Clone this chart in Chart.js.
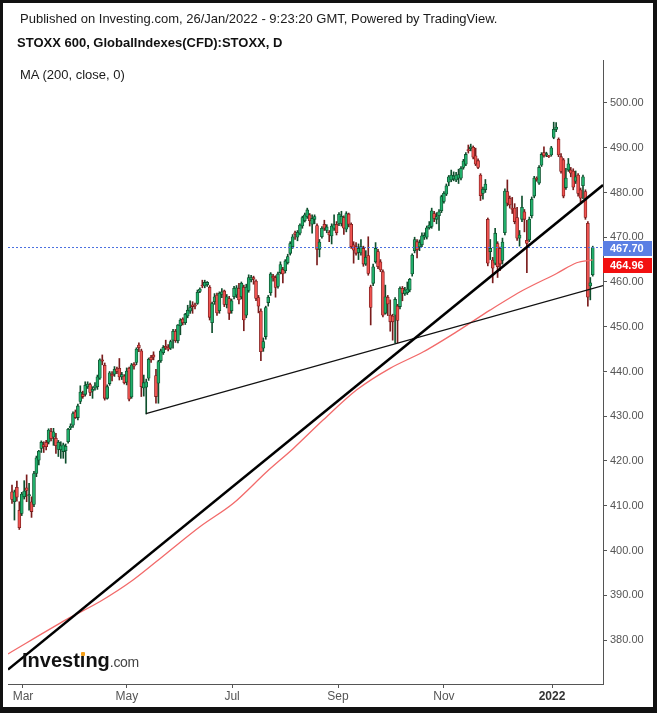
<!DOCTYPE html>
<html>
<head>
<meta charset="utf-8">
<script src="https://cdn.jsdelivr.net/npm/chart.js@4.4.0/dist/chart.umd.min.js"></script>
<style>
html, body { margin: 0; padding: 0; background: #111; }
body { width: 657px; height: 713px; position: relative; overflow: hidden; font-family: "Liberation Sans", Arial, sans-serif; }
#frame { position: absolute; left: 3px; top: 3px; width: 650px; height: 704px; background: #fff; }
#chart { position: absolute; left: 0; top: 0; }
.txt { position: absolute; white-space: nowrap; color: #1a1a1a; font-size: 13px; line-height: 16px; }
.bold { font-weight: bold; color: #111; }
#logo { position: absolute; left: 22px; top: 650px; line-height: 20px; white-space: nowrap; }
#logo .inv { font-weight: bold; font-size: 20px; color: #111; }
#logo .idot { position: relative; }
#logo .idot::after { content: ''; position: absolute; left: 1px; top: 3px; width: 4px; height: 4px; background: #f5a01a; border-radius: 1px; }
#logo .com { font-size: 14px; color: #444; letter-spacing: -0.3px; }
</style>
</head>
<body>
<div id="frame"></div>
<canvas id="chart" width="657" height="713"></canvas>
<div class="txt" style="left:20px;top:11px;">Published on Investing.com, 26/Jan/2022 - 9:23:20 GMT, Powered by TradingView.</div>
<div class="txt bold" style="left:17px;top:35px;">STOXX 600, GlobalIndexes(CFD):STOXX, D</div>
<div class="txt" style="left:20px;top:67px;">MA (200, close, 0)</div>
<div id="logo"><span class="inv">Invest<span class="idot">ı</span>ng</span><span class="com">.com</span></div>
<script>
// --- Daily candles, one entry per trading day (late Feb 2021 .. 26 Jan 2022) ---
const opens = [
  413.1, 410.9, 414.1, 409.0, 408.3, 412.0, 414.0, 412.2, 410.9, 410.3,
  417.2, 420.2, 422.8, 423.6, 424.2, 424.2, 426.6, 425.3, 425.1, 422.6,
  422.5, 422.1, 422.3, 424.3, 427.4, 428.0, 431.0, 429.7, 433.3, 434.9,
  434.9, 436.6, 437.1, 435.6, 436.3, 436.6, 438.5, 442.6, 441.4, 434.0,
  437.3, 439.4, 439.4, 440.6, 440.7, 438.8, 439.0, 437.6, 440.7, 434.3,
  441.6, 442.0, 445.9, 444.6, 436.3, 436.5, 438.5, 443.2, 443.7, 439.1,
  437.4, 442.4, 444.2, 445.6, 445.4, 445.2, 447.0, 449.0, 446.9, 450.2,
  451.7, 450.9, 452.4, 453.5, 454.9, 454.9, 455.2, 457.9, 459.3, 459.1,
  459.4, 458.8, 450.9, 455.6, 457.1, 453.6, 457.2, 458.0, 455.0, 456.3,
  453.6, 456.7, 457.1, 458.6, 456.7, 458.8, 452.6, 458.1, 460.5, 461.0,
  460.2, 456.5, 453.5, 445.2, 447.8, 455.4, 457.6, 461.3, 461.0, 459.0,
  462.1, 462.8, 462.5, 464.3, 466.4, 467.9, 471.0, 470.0, 470.9, 472.5,
  473.7, 474.6, 475.0, 472.9, 474.0, 472.6, 467.3, 470.1, 472.9, 471.5,
  471.1, 470.3, 472.0, 472.9, 473.1, 473.1, 474.4, 471.8, 475.2, 472.9,
  468.3, 467.9, 466.6, 466.5, 467.5, 464.0, 465.9, 458.9, 459.7, 464.5,
  466.8, 464.5, 462.3, 453.0, 456.6, 452.6, 452.4, 452.6, 454.6, 454.5,
  458.6, 457.4, 457.6, 458.2, 461.8, 467.0, 469.0, 467.8, 468.3, 470.0,
  470.0, 472.1, 472.4, 475.3, 474.0, 474.8, 475.9, 478.0, 479.6, 482.3,
  482.8, 483.0, 482.8, 483.2, 483.2, 485.6, 486.3, 489.6, 489.8, 490.1,
  488.2, 487.1, 483.9, 479.8, 480.6, 474.0, 466.8, 464.9, 464.2, 468.6,
  467.5, 464.8, 471.0, 480.2, 478.7, 476.5, 476.5, 474.4, 469.8, 474.0,
  475.7, 469.3, 469.4, 474.8, 479.2, 483.2, 482.1, 486.1, 488.9, 488.4,
  488.1, 488.4, 492.3, 494.1, 491.9, 488.0, 487.3, 481.1, 485.0, 485.0,
  484.8, 482.5, 483.9, 480.6, 481.5, 480.2, 473.1, 459.1, 461.6
];
const highs = [
  414.6, 413.5, 415.5, 410.9, 413.0, 415.6, 416.9, 415.0, 412.0, 417.7,
  421.1, 422.4, 424.5, 424.3, 424.6, 427.2, 427.3, 427.3, 426.2, 424.6,
  424.3, 424.0, 423.8, 427.3, 428.3, 431.0, 431.4, 432.7, 436.8, 435.6,
  437.7, 437.7, 437.4, 436.6, 437.5, 439.2, 442.8, 443.7, 441.9, 437.0,
  440.0, 440.0, 441.1, 441.0, 442.9, 439.8, 439.3, 440.8, 441.0, 441.8,
  442.0, 445.3, 446.4, 445.0, 439.2, 438.3, 443.0, 443.6, 444.4, 440.5,
  442.5, 445.0, 445.8, 447.0, 446.0, 447.0, 449.4, 449.4, 450.5, 451.8,
  452.0, 453.0, 454.8, 455.8, 455.6, 455.3, 458.2, 458.7, 460.4, 460.4,
  460.1, 459.2, 455.5, 457.4, 457.5, 457.8, 458.5, 458.2, 457.2, 456.8,
  456.2, 459.0, 459.2, 459.7, 460.0, 459.3, 459.5, 461.6, 461.5, 461.3,
  460.5, 457.0, 454.0, 447.5, 454.6, 457.0, 462.1, 461.7, 461.4, 462.2,
  464.5, 463.3, 465.0, 466.2, 469.0, 470.6, 471.4, 471.5, 473.0, 474.7,
  475.4, 476.5, 475.3, 475.0, 475.0, 473.0, 469.5, 472.4, 473.8, 472.8,
  471.5, 473.0, 475.0, 473.5, 475.5, 475.8, 474.8, 475.7, 475.4, 473.2,
  469.0, 468.8, 468.5, 469.5, 468.0, 467.0, 470.1, 459.3, 464.0, 468.8,
  467.3, 465.0, 462.7, 459.3, 457.0, 456.0, 452.8, 456.5, 455.0, 458.9,
  459.0, 458.8, 460.0, 460.8, 466.3, 470.0, 469.5, 469.4, 471.0, 471.0,
  472.5, 473.5, 476.5, 475.8, 475.5, 476.2, 479.4, 480.2, 481.9, 483.8,
  485.0, 484.6, 484.5, 485.2, 485.8, 487.4, 488.9, 490.6, 490.8, 490.4,
  489.9, 487.5, 484.2, 481.2, 482.9, 474.3, 469.5, 465.5, 472.0, 469.0,
  467.8, 469.8, 480.8, 482.8, 479.2, 478.9, 477.5, 476.7, 471.5, 479.2,
  476.2, 473.8, 474.5, 479.0, 483.6, 483.5, 486.0, 488.9, 490.2, 489.0,
  488.3, 490.3, 495.7, 495.6, 492.2, 488.7, 487.6, 485.4, 487.6, 485.6,
  485.3, 484.8, 484.2, 481.0, 483.9, 480.6, 473.5, 461.0, 468.0
];
const lows = [
  410.5, 406.8, 411.0, 404.7, 407.8, 411.5, 410.9, 409.0, 407.4, 409.8,
  416.5, 419.1, 421.9, 421.9, 422.5, 423.8, 424.5, 423.5, 421.7, 421.0,
  420.6, 420.6, 419.5, 424.0, 427.0, 427.5, 429.5, 429.2, 432.8, 434.0,
  434.5, 436.2, 434.6, 434.0, 435.8, 436.0, 438.2, 441.5, 433.6, 433.8,
  436.9, 437.9, 438.9, 439.5, 438.1, 438.2, 437.2, 437.0, 433.4, 434.0,
  440.5, 441.5, 444.4, 434.4, 434.5, 430.5, 438.0, 442.0, 442.6, 432.9,
  432.9, 442.0, 443.8, 444.9, 444.6, 444.9, 445.2, 446.5, 446.4, 448.2,
  450.4, 450.5, 452.0, 453.0, 453.0, 454.0, 455.0, 457.6, 458.7, 458.7,
  459.0, 451.5, 448.7, 455.0, 452.5, 453.0, 456.5, 454.5, 454.2, 451.6,
  453.0, 456.2, 456.5, 455.1, 456.2, 449.1, 452.0, 457.7, 460.0, 459.5,
  455.8, 453.1, 442.4, 444.5, 447.2, 454.6, 457.0, 460.2, 456.6, 458.6,
  461.8, 459.8, 462.0, 464.0, 466.0, 467.5, 469.5, 469.2, 470.5, 472.0,
  473.4, 474.2, 472.5, 470.9, 473.0, 463.8, 465.6, 469.8, 471.5, 471.0,
  469.0, 468.5, 471.5, 470.5, 472.6, 472.5, 470.6, 471.2, 472.3, 467.5,
  464.2, 466.0, 465.0, 466.0, 463.5, 463.7, 461.5, 450.4, 459.2, 464.2,
  463.0, 462.3, 452.2, 452.8, 452.5, 449.0, 447.0, 446.3, 446.4, 454.0,
  455.8, 457.0, 457.2, 457.8, 461.3, 466.5, 465.4, 467.0, 467.9, 469.5,
  469.6, 471.8, 472.0, 473.5, 473.0, 471.5, 475.5, 477.6, 479.3, 481.5,
  482.4, 482.6, 482.4, 482.0, 482.8, 485.2, 486.0, 488.8, 489.3, 487.5,
  486.0, 485.3, 478.2, 478.5, 480.0, 463.6, 465.0, 459.8, 463.8, 461.0,
  462.5, 464.0, 470.5, 477.0, 476.5, 475.3, 473.0, 469.3, 468.0, 473.5,
  471.2, 462.1, 469.0, 474.3, 478.8, 482.5, 481.8, 485.8, 487.9, 488.0,
  487.8, 488.1, 492.0, 493.6, 488.0, 484.3, 478.8, 480.7, 484.7, 483.5,
  480.6, 482.0, 479.2, 477.9, 478.6, 474.0, 454.6, 456.0, 461.3
];
const closes = [
  411.4, 413.1, 411.9, 405.1, 412.6, 413.3, 413.4, 412.5, 408.7, 417.2,
  420.7, 422.2, 424.2, 423.2, 423.2, 426.9, 425.0, 426.5, 423.4, 424.2,
  423.4, 423.6, 423.3, 427.1, 427.8, 430.6, 429.7, 432.3, 435.4, 434.4,
  436.9, 437.2, 435.3, 436.0, 436.8, 438.8, 442.6, 442.3, 434.0, 436.6,
  439.7, 439.0, 440.5, 440.0, 438.8, 439.3, 437.5, 440.1, 433.8, 441.5,
  441.2, 445.0, 445.3, 436.6, 437.5, 437.7, 442.7, 442.6, 443.2, 434.4,
  442.2, 444.6, 445.4, 445.3, 445.0, 446.7, 449.0, 446.9, 450.4, 451.5,
  450.9, 452.8, 453.7, 454.3, 454.5, 454.6, 457.7, 458.4, 459.1, 459.9,
  459.9, 452.1, 455.2, 456.7, 453.1, 457.5, 457.8, 455.0, 456.7, 453.0,
  455.8, 458.6, 458.7, 456.0, 459.7, 451.5, 458.8, 461.0, 461.0, 460.6,
  456.3, 454.6, 444.4, 446.7, 454.3, 456.6, 461.8, 460.9, 458.8, 461.8,
  463.9, 461.8, 464.7, 465.7, 468.6, 470.1, 470.6, 471.1, 472.7, 474.4,
  475.0, 476.1, 473.7, 474.2, 474.6, 467.3, 468.9, 472.0, 472.0, 472.3,
  470.5, 472.5, 472.8, 471.0, 475.1, 474.7, 472.0, 475.3, 472.9, 467.9,
  467.1, 466.4, 467.5, 467.9, 464.0, 465.5, 461.9, 454.3, 463.4, 467.5,
  463.4, 462.7, 452.6, 456.7, 455.1, 451.1, 451.1, 456.1, 451.4, 458.6,
  457.5, 458.2, 458.4, 460.6, 466.0, 469.5, 467.2, 468.8, 470.3, 470.4,
  472.1, 472.7, 475.9, 474.2, 474.6, 475.7, 479.1, 479.8, 481.5, 483.5,
  483.9, 483.7, 483.9, 484.0, 485.4, 487.0, 488.5, 489.3, 490.2, 487.9,
  486.3, 485.6, 479.3, 480.7, 481.9, 464.2, 467.5, 463.1, 470.9, 463.4,
  464.0, 468.9, 480.3, 477.6, 477.2, 476.2, 473.5, 469.8, 470.5, 476.7,
  474.0, 468.6, 474.0, 478.5, 483.2, 482.9, 485.6, 488.5, 488.2, 488.7,
  488.0, 490.0, 494.1, 494.6, 488.4, 484.7, 479.2, 483.2, 486.4, 484.3,
  481.2, 483.5, 479.8, 478.7, 483.5, 474.4, 456.6, 459.8, 467.7
];

// --- 200-day moving average, read at a few candle positions ---
const maIdx = [-1.64, 22.4, 36.1, 49.6, 63.4, 77.0, 90.6, 104.4, 115.3, 127.6, 141.3, 154.9, 168.6, 182.3, 195.9, 209.6, 223.2, 231.4, 238];
const maVals = [376.9, 384.6, 388.6, 393.4, 399.4, 405.3, 410.5, 417.6, 422.8, 429.2, 435.9, 440.7, 444.4, 448.9, 453.7, 458.2, 461.9, 464.3, 464.96];

// --- Drawn trend lines (candle index, price) ---
const steepLineIdx = [-1.64, 242.2];
const steepLineVals = [373.4, 481.65];
const flatLineIdx = [54.9, 242.2];
const flatLineVals = [430.6, 459.2];

const lastPrice = 467.70;
const maLast = 464.96;

// --- Axis ticks ---
const xTickPos = [4.5, 47.1, 90.2, 133.6, 177.0, 221.3];
const xTickLabels = ['Mar', 'May', 'Jul', 'Sep', 'Nov', '2022'];
const yTickVals = [380, 390, 400, 410, 420, 430, 440, 450, 460, 470, 480, 490, 500];

const X_MIN = -1.64;
const X_MAX = 242.2;
const FONT = '"Liberation Sans", Arial, sans-serif';

// --- Candle datasets ---
const upFill = '#22b06c', upLine = '#0e4f2d';
const downFill = '#ef5350', downLine = '#7a1c1c';

const isUp = opens.map((o, i) => closes[i] >= o);
const wickData = opens.map((o, i) => ({ x: i, y: [lows[i], highs[i]] }));
const bodyData = opens.map((o, i) => ({ x: i, y: [Math.min(o, closes[i]), Math.max(o, closes[i])] }));

const maData = maIdx.map((x, i) => ({ x: x, y: maVals[i] }));
const steepData = steepLineIdx.map((x, i) => ({ x: x, y: steepLineVals[i] }));
const flatData = flatLineIdx.map((x, i) => ({ x: x, y: flatLineVals[i] }));
const lastData = [{ x: X_MIN, y: lastPrice }, { x: X_MAX, y: lastPrice }];

// --- Price tags on the right axis ---
const priceTags = {
    id: 'priceTags',
    afterDraw(chart) {
        const ctx = chart.ctx;
        const y = chart.scales.y;
        const area = chart.chartArea;
        const yBlue = y.getPixelForValue(lastPrice);
        const yRed = Math.max(y.getPixelForValue(maLast), yBlue + 17);
        const tags = [[yBlue, '#5a7fe4', lastPrice], [yRed, '#f21010', maLast]];
        ctx.save();
        tags.forEach(t => {
            ctx.fillStyle = t[1];
            ctx.fillRect(area.right, Math.round(t[0]) - 7, 49, 15);
            ctx.fillStyle = '#fff';
            ctx.font = 'bold 11px ' + FONT;
            ctx.textBaseline = 'middle';
            ctx.textAlign = 'left';
            ctx.fillText(t[2].toFixed(2), area.right + 7, Math.round(t[0]) + 1);
        });
        ctx.restore();
    }
};

new Chart(document.getElementById('chart'), {
    type: 'bar',
    data: {
        datasets: [
            {
                type: 'line', data: steepData, borderColor: '#000', borderWidth: 2.5,
                pointRadius: 0, order: 1
            },
            {
                type: 'line', data: flatData, borderColor: '#111', borderWidth: 1.2,
                pointRadius: 0, order: 1
            },
            {
                type: 'line', data: maData, borderColor: '#f26a6a', borderWidth: 1.3,
                pointRadius: 0, tension: 0.3, order: 1
            },
            {
                type: 'line', data: lastData, borderColor: '#4a6fe0', borderWidth: 1,
                borderDash: [2, 2], pointRadius: 0, order: 1
            },
            {
                data: wickData,
                backgroundColor: isUp.map(u => u ? upLine : downLine),
                barThickness: 1, grouped: false, order: 3
            },
            {
                data: bodyData,
                backgroundColor: isUp.map(u => u ? upFill : downFill),
                borderColor: isUp.map(u => u ? upLine : downLine),
                borderWidth: 0.8, borderSkipped: false, minBarLength: 1,
                barThickness: 3, grouped: false, order: 2
            }
        ]
    },
    options: {
        responsive: false,
        devicePixelRatio: 1,
        animation: false,
        events: [],
        layout: { padding: { left: 8, top: 60, right: 0, bottom: 0 } },
        plugins: { legend: { display: false }, tooltip: { enabled: false } },
        scales: {
            x: {
                type: 'linear', min: X_MIN, max: X_MAX, offset: false,
                afterBuildTicks: scale => { scale.ticks = xTickPos.map(v => ({ value: v })); },
                afterFit: scale => { scale.height = 29; },
                grid: { offset: false, drawOnChartArea: false, drawTicks: true, tickLength: 4, color: '#555' },
                border: { display: true, color: '#555', width: 1 },
                ticks: {
                    padding: 1, maxRotation: 0, autoSkip: false,
                    color: c => (c.tick && c.tick.label === '2022') ? '#333' : '#555',
                    font: c => ({ family: FONT, size: 12, weight: (c.tick && c.tick.label === '2022') ? 'bold' : 'normal' }),
                    callback: v => {
                        const i = xTickPos.indexOf(v);
                        return i >= 0 ? xTickLabels[i] : '';
                    }
                }
            },
            y: {
                type: 'linear', position: 'right', min: 370.17, max: 509.6,
                afterBuildTicks: scale => { scale.ticks = yTickVals.map(v => ({ value: v })); },
                afterFit: scale => { scale.width = 54; },
                grid: { drawOnChartArea: false, drawTicks: true, tickLength: 4, color: '#555' },
                border: { display: true, color: '#555', width: 1 },
                ticks: {
                    padding: 3, color: '#555',
                    font: { family: FONT, size: 11 },
                    callback: v => Number(v).toFixed(2)
                }
            }
        }
    },
    plugins: [priceTags]
});
</script>
</body>
</html>
